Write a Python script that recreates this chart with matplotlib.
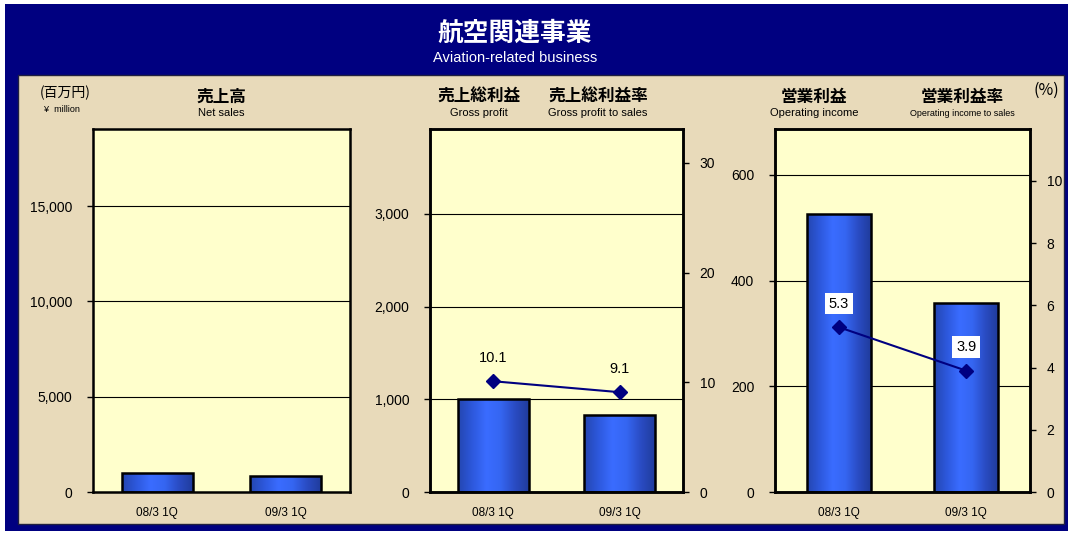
import numpy as np
import matplotlib
matplotlib.use('Agg')
import matplotlib.pyplot as plt
from matplotlib.patches import Rectangle
from matplotlib.ticker import FuncFormatter, FixedLocator
from matplotlib.colors import LinearSegmentedColormap

# ---------------- data ----------------
categories = ['08/3 1Q', '09/3 1Q']
net_sales = [1000, 850]
gross_profit = [1000, 830]
gross_profit_rate = [10.1, 9.1]
operating_income = [526, 358]
operating_income_rate = [5.3, 3.9]

net_ticks = [0, 5000, 10000, 15000]
gp_ticks = [0, 1000, 2000, 3000]
gpr_ticks = [0, 10, 20, 30]
oi_ticks = [0, 200, 400, 600]
oir_ticks = [0, 2, 4, 6, 8, 10]

# ---------------- style ----------------
W, H = 1074, 533
NAVY = '#000080'
PARCH = '#E8DABA'
PLOT_BG = '#FFFFCC'
JP = ['Noto Sans CJK JP', 'DejaVu Sans']
EN = ['Liberation Sans', 'DejaVu Sans']

bar_cmap = LinearSegmentedColormap.from_list(
    'barg', ['#2446b0', '#2d58dc', '#3a6cff', '#3566f2', '#2a4cc4', '#203c9c'])

fig = plt.figure(figsize=(W / 100, H / 100), dpi=100, facecolor='white')


def box(x0, y0, x1, y1):
    return [x0 / W, 1 - y1 / H, (x1 - x0) / W, (y1 - y0) / H]


bg = fig.add_axes([0, 0, 1, 1])
bg.set_axis_off()
bg.set_xlim(0, W)
bg.set_ylim(H, 0)
bg.add_patch(Rectangle((5, 4), 1063, 527, facecolor=NAVY, edgecolor='none'))
bg.add_patch(Rectangle((18, 75), 1046, 449, facecolor=PARCH,
                       edgecolor='#202040', lw=1))

# titles
bg.text(515, 33, '航空関連事業', color='white', fontsize=18.5, fontweight='bold',
        family=JP, ha='center', va='center')
bg.text(515, 58, 'Aviation-related business', color='white', fontsize=10.5,
        family=EN, ha='center', va='center')

bg.text(65, 93, '(百万円)', fontsize=10, family=JP, ha='center', va='center')
bg.text(62, 109, '¥  million', fontsize=6.5, family=EN, ha='center', va='center')
bg.text(1046, 90, '(%)', fontsize=11.5, family=JP, ha='center', va='center')

heads = [
    (221, '売上高', 'Net sales', 8),
    (479, '売上総利益', 'Gross profit', 8),
    (598, '売上総利益率', 'Gross profit to sales', 8),
    (814, '営業利益', 'Operating income', 8),
    (962, '営業利益率', 'Operating income to sales', 6.5),
]
for x, jp, en, fs in heads:
    bg.text(x, 97, jp, fontsize=12, fontweight='bold', family=JP,
            ha='center', va='center')
    bg.text(x, 113, en, fontsize=fs, family=EN, ha='center', va='center')


def thousands(v, pos):
    return f'{v:,.0f}'


def draw_panel(rect, values, ylim, yticks, bar_w, rate=None, rlim=None,
               rticks=None, label_box=False):
    ax = fig.add_axes(rect)
    ax.set_facecolor(PLOT_BG)
    x = np.arange(len(categories))
    bars = ax.bar(x, values, width=bar_w, color='none', edgecolor='black',
                  linewidth=1.8, zorder=3)
    grad = np.linspace(0, 1, 256).reshape(1, -1)
    for b in bars:
        im = ax.imshow(grad, cmap=bar_cmap, aspect='auto',
                       extent=[b.get_x(), b.get_x() + b.get_width(), 0,
                               b.get_height()], zorder=2)
        im.set_clip_path(b)
    ax.set_xlim(-0.5, len(categories) - 0.5)
    ax.set_ylim(*ylim)
    ax.yaxis.set_major_locator(FixedLocator(yticks))
    ax.yaxis.set_major_formatter(FuncFormatter(thousands))
    for t in yticks[1:]:
        ax.axhline(t, color='black', lw=0.8, zorder=1)
    ax.set_xticks(x)
    ax.set_xticklabels(categories, fontsize=8.5, family=EN)
    ax.tick_params(axis='x', length=0, pad=11)
    ax.tick_params(axis='y', direction='out', length=4, width=1, pad=11,
                   labelsize=10)
    for lab in ax.get_yticklabels():
        lab.set_family(EN)
    for s in ax.spines.values():
        s.set_linewidth(1.8)
        s.set_color('black')
    if rate is not None:
        ax2 = ax.twinx()
        ax2.set_ylim(*rlim)
        ax2.yaxis.set_major_locator(FixedLocator(rticks))
        ax2.tick_params(axis='y', direction='out', length=4, width=1, pad=8,
                        labelsize=10)
        for lab in ax2.get_yticklabels():
            lab.set_family(EN)
        for s in ax2.spines.values():
            s.set_linewidth(1.8)
        ax2.plot(x, rate, color=NAVY, lw=1.5, marker='D', ms=7,
                 markerfacecolor=NAVY, markeredgecolor=NAVY, zorder=5)
        for xi, r in zip(x, rate):
            kw = {}
            if label_box:
                kw['bbox'] = dict(boxstyle='square,pad=0.25', facecolor='white',
                                  edgecolor='none')
            ax2.annotate(f'{r:.1f}', (xi, r), xytext=(0, 17),
                         textcoords='offset points', ha='center', va='center',
                         fontsize=10.5, family=EN, zorder=6, **kw)
        ax2.set_xlim(-0.5, len(categories) - 0.5)
    return ax


draw_panel(box(93, 129, 350, 492), net_sales, (0, 19050), net_ticks, 0.55)
draw_panel(box(430, 129, 683, 492), gross_profit, (0, 3916), gp_ticks, 0.56,
           gross_profit_rate, (0, 33.1), gpr_ticks)
draw_panel(box(775, 129, 1030, 492), operating_income, (0, 687), oi_ticks, 0.5,
           operating_income_rate, (0, 11.67), oir_ticks, label_box=True)

fig.savefig('out.png', dpi=100, facecolor=fig.get_facecolor())
